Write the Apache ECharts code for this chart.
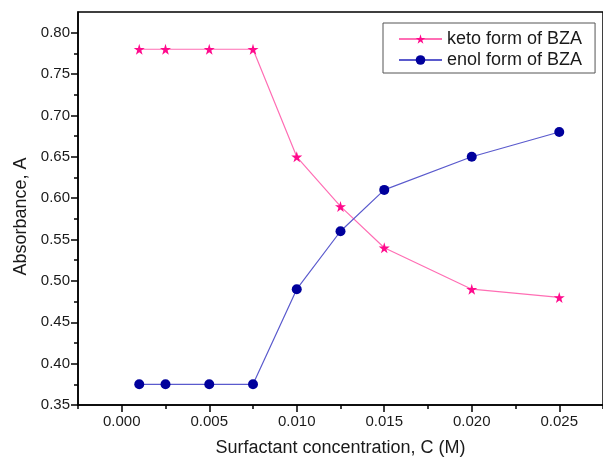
<!DOCTYPE html>
<html>
<head>
<meta charset="utf-8">
<script src="https://cdn.jsdelivr.net/npm/echarts@6/dist/echarts.min.js"></script>
<style>html,body{margin:0;padding:0;background:#fff;}#main{width:603px;height:462px;}</style>
</head>
<body>
<div id="main"></div>
<script>
const concentration = [0.001, 0.0025, 0.005, 0.0075, 0.010, 0.0125, 0.015, 0.020, 0.025];
const keto = [0.78, 0.78, 0.78, 0.78, 0.65, 0.59, 0.54, 0.49, 0.48];
const enol = [0.375, 0.375, 0.375, 0.375, 0.49, 0.56, 0.61, 0.65, 0.68];
const xMajorTicks = [0.000, 0.005, 0.010, 0.015, 0.020, 0.025];
const xMinorTicks = [-0.0025, 0.0025, 0.0075, 0.0125, 0.0175, 0.0225, 0.0275];
const yMajorTicks = [0.35, 0.40, 0.45, 0.50, 0.55, 0.60, 0.65, 0.70, 0.75, 0.80];
const yMinorTicks = [0.375, 0.425, 0.475, 0.525, 0.575, 0.625, 0.675, 0.725, 0.775];
const seriesNames = ['keto form of BZA', 'enol form of BZA'];

const FONT = '"Liberation Sans", Arial, sans-serif';
const TXT = '#1a1a1a';
const STAR = 'path://M50,0 L61,35 L98,35 L68,57 L79,91 L50,70 L21,91 L32,57 L2,35 L39,35 Z';

const chart = echarts.init(document.getElementById('main'), null, {renderer: 'canvas'});
const xRange = {min: -0.0025, max: 0.0275};
const yRange = {min: 0.35, max: 0.825};

chart.setOption({
  animation: false,
  backgroundColor: '#fff',
  textStyle: {fontFamily: FONT},
  grid: {left: 78, top: 12, width: 530, height: 393, show: true, borderColor: '#000', borderWidth: 1.5, containLabel: false},
  legend: {
    data: seriesNames,
    orient: 'vertical',
    left: 383, top: 23,
    borderColor: '#555', borderWidth: 1,
    padding: [7, 13, 4, 15],
    itemWidth: 43, itemHeight: 12, itemGap: 3,
    textStyle: {fontSize: 18, color: TXT, fontFamily: FONT},
    backgroundColor: '#fff'
  },
  xAxis: [
    {
      type: 'value', ...xRange, position: 'bottom',
      name: 'Surfactant concentration, C (M)', nameLocation: 'middle', nameGap: 34,
      nameTextStyle: {fontSize: 18, color: TXT, fontFamily: FONT},
      axisLine: {show: true, onZero: false, lineStyle: {color: '#000', width: 1.5}},
      axisTick: {show: true, customValues: xMajorTicks, length: 7, lineStyle: {color: '#000', width: 1.5}},
      axisLabel: {customValues: xMajorTicks, formatter: v => v.toFixed(3), fontSize: 15, color: TXT, margin: 9, fontFamily: FONT},
      splitLine: {show: false}
    },
    {
      type: 'value', ...xRange, position: 'bottom',
      axisLine: {show: false, onZero: false},
      axisTick: {show: true, customValues: xMinorTicks, length: 4, lineStyle: {color: '#000', width: 1.5}},
      axisLabel: {show: false},
      splitLine: {show: false}
    }
  ],
  yAxis: [
    {
      type: 'value', ...yRange, position: 'left',
      name: 'Absorbance, A', nameLocation: 'middle', nameGap: 48,
      nameTextStyle: {fontSize: 18, color: TXT, fontFamily: FONT, padding: [0, 16, 0, 0]},
      axisLine: {show: true, onZero: false, lineStyle: {color: '#000', width: 1.5}},
      axisTick: {show: true, customValues: yMajorTicks, length: 7, lineStyle: {color: '#000', width: 1.5}},
      axisLabel: {customValues: yMajorTicks, formatter: v => v.toFixed(2), fontSize: 15, color: TXT, margin: 8, fontFamily: FONT},
      splitLine: {show: false}
    },
    {
      type: 'value', ...yRange, position: 'left',
      axisLine: {show: false, onZero: false},
      axisTick: {show: true, customValues: yMinorTicks, length: 4, lineStyle: {color: '#000', width: 1.5}},
      axisLabel: {show: false},
      splitLine: {show: false}
    }
  ],
  series: [
    {
      name: seriesNames[0], type: 'line',
      data: concentration.map((c, i) => [c, keto[i]]),
      symbol: STAR, symbolSize: 11,
      itemStyle: {color: '#FF0A8C'},
      lineStyle: {color: '#FF6EB4', width: 1.2}
    },
    {
      name: seriesNames[1], type: 'line',
      data: concentration.map((c, i) => [c, enol[i]]),
      symbol: 'circle', symbolSize: 10,
      itemStyle: {color: '#00009C'},
      lineStyle: {color: '#5A5ACD', width: 1.2}
    }
  ]
});
</script>
</body>
</html>
